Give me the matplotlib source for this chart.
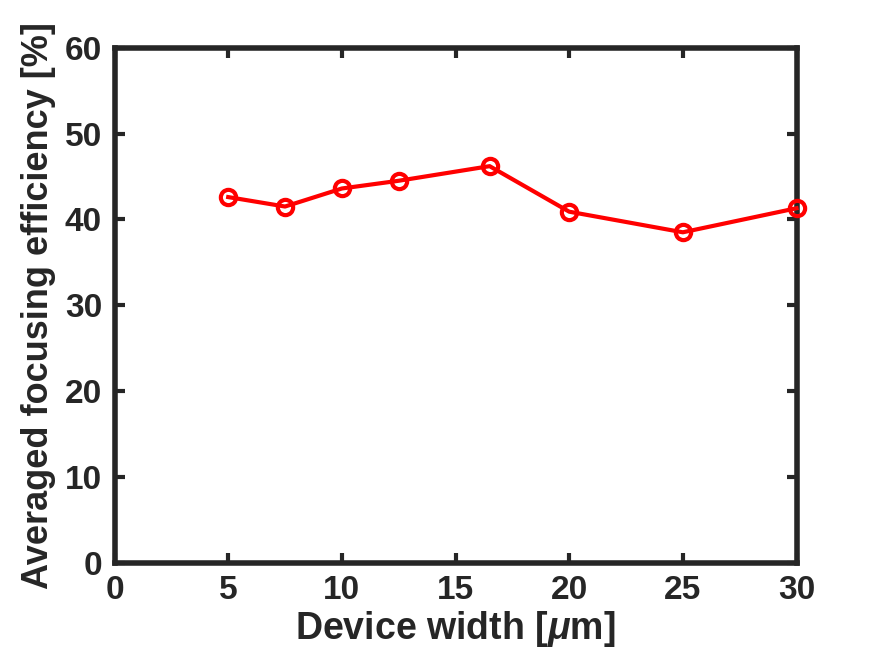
import matplotlib
matplotlib.use("Agg")
import matplotlib.pyplot as plt

plt.rcParams['font.family'] = ['Liberation Sans', 'DejaVu Sans']
plt.rcParams['font.weight'] = 'bold'
plt.rcParams['mathtext.fontset'] = 'custom'
plt.rcParams['mathtext.it'] = 'Liberation Sans:italic'
plt.rcParams['mathtext.rm'] = 'Liberation Sans:bold'

width_um = [5, 7.5, 10, 12.5, 16.5, 20, 25, 30]
efficiency = [42.6, 41.5, 43.6, 44.5, 46.2, 40.9, 38.5, 41.3]
xticks = [0, 5, 10, 15, 20, 25, 30]
yticks = [0, 10, 20, 30, 40, 50, 60]

fig = plt.figure(figsize=(8.75, 6.56), dpi=100)
ax = fig.add_axes([0.1309, 0.1418, 0.7794, 0.7856])
ax.plot(width_um, efficiency, color='#ff0000', lw=3, marker='o', ms=11,
        mfc='none', mec='#ff0000', mew=3, clip_on=False, zorder=3)
ax.set_xlim(0, 30)
ax.set_ylim(0, 60)
ax.set_xticks(xticks)
ax.set_yticks(yticks)
dark = '#262626'
for s in ax.spines.values():
    s.set_linewidth(4)
    s.set_color(dark)
ax.tick_params(direction='in', length=7, width=3, color=dark, top=True, right=True,
               labelsize=24, labelcolor=dark, pad=9)
for lab in ax.get_xticklabels() + ax.get_yticklabels():
    lab.set_fontweight('bold')
ax.set_xlabel(r'Device width [$\mu$m]', fontsize=27, fontweight='bold', color=dark, labelpad=2)
ax.set_ylabel('Averaged focusing efficiency [%]', fontsize=26, fontweight='bold', color=dark, labelpad=6)
fig.savefig('out.png', dpi=100)
